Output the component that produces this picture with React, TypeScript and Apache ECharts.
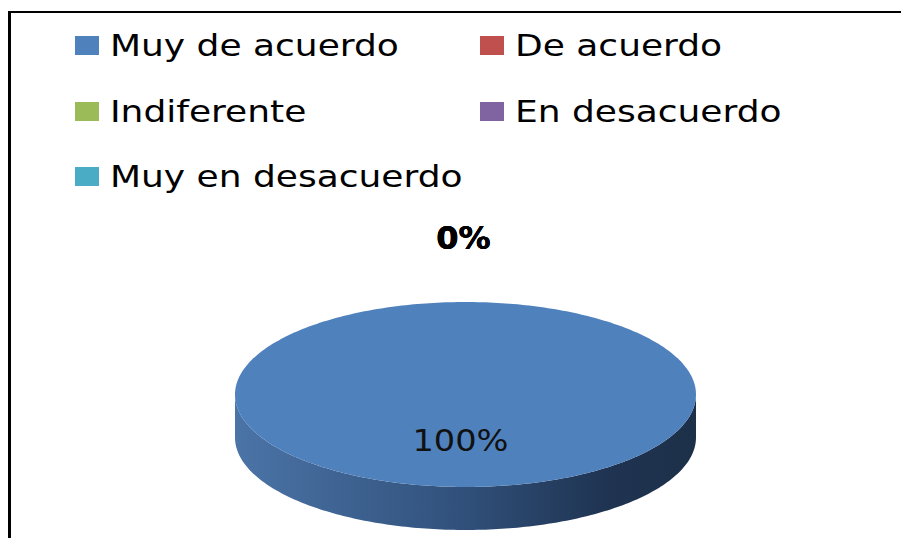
import React, { useEffect, useRef } from "react";
import * as echarts from "echarts";

// ---- data ----
const categories = ["Muy de acuerdo", "De acuerdo", "Indiferente", "En desacuerdo", "Muy en desacuerdo"];
const values = [100, 0, 0, 0, 0];
const colors = ["#4f81bd", "#c0504d", "#9bbb59", "#8064a2", "#4bacc6"];

// ---- layout ----
const CX = 465.5;
const CY = 394.5;
const RX = 230.5;
const RY = 92.5;
const DEPTH = 43;
const FONT = "'DejaVu Sans', Verdana, sans-serif";
const STRETCH = 1.2;

const total = values.reduce((a, b) => a + b, 0);

function pt(theta: number, dy = 0): number[] {
  return [CX + RX * Math.sin(theta), CY - RY * Math.cos(theta) + dy];
}

function renderItem(params: any, api: any) {
  const i = params.dataIndex;
  const v = api.value(0) as number;
  let before = 0;
  for (let k = 0; k < i; k++) before += values[k];
  const a0 = (before / total) * Math.PI * 2;
  const a1 = ((before + v) / total) * Math.PI * 2;
  const children: any[] = [];
  if (v > 0) {
    // side (front half only)
    const s = Math.max(a0, Math.PI / 2);
    const e = Math.min(a1, (Math.PI * 3) / 2);
    if (e > s) {
      const n = Math.max(2, Math.ceil(((e - s) / (Math.PI * 2)) * 360));
      const pts: number[][] = [];
      for (let k = 0; k <= n; k++) pts.push(pt(s + ((e - s) * k) / n));
      for (let k = n; k >= 0; k--) pts.push(pt(s + ((e - s) * k) / n, DEPTH));
      children.push({
        type: "polygon",
        shape: { points: pts },
        style: {
          fill: new echarts.graphic.LinearGradient(
            CX - RX, 0, CX + RX, 0,
            [
              { offset: 0, color: "#4b74a7" },
              { offset: 0.5, color: "#30507a" },
              { offset: 0.8, color: "#1f3452" },
              { offset: 1, color: "#1d3049" },
            ],
            true
          ),
          stroke: null,
        },
      });
    }
    // top face
    const span = a1 - a0;
    const n = Math.max(2, Math.ceil((span / (Math.PI * 2)) * 360));
    const pts: number[][] = [];
    if (span < Math.PI * 2 - 1e-6) pts.push([CX, CY]);
    for (let k = 0; k <= n; k++) pts.push(pt(a0 + (span * k) / n));
    children.push({
      type: "polygon",
      shape: { points: pts },
      style: { fill: colors[i], stroke: null },
    });
  }
  const mid = (a0 + a1) / 2;
  const pct = Math.round((v / total) * 100) + "%";
  if (v > 0) {
    children.push({
      type: "text",
      x: CX + 0.5 * RX * Math.sin(mid) - 5,
      y: CY - 0.5 * RY * Math.cos(mid),
      scaleX: 1.12,
      style: {
        text: pct,
        fontSize: 30,
        fontFamily: FONT,
        fill: "#111",
        align: "center",
        verticalAlign: "middle",
        textAlign: "center",
        textVerticalAlign: "middle",
      },
    });
  } else {
    const d = 63;
    children.push({
      type: "text",
      x: CX + (RX + d) * Math.sin(mid) - 2,
      y: CY - (RY + d) * Math.cos(mid) - 1,
      style: {
        text: pct,
        fontSize: 32,
        fontWeight: "bold",
        fontFamily: FONT,
        fill: "#000",
        align: "center",
        verticalAlign: "middle",
        textAlign: "center",
        textVerticalAlign: "middle",
      },
    });
  }
  return { type: "group", children };
}

// legend positions
const legendCols = [75, 480];
const legendRows = [46, 112, 177];

function legendGraphics() {
  const els: any[] = [];
  categories.forEach((name, idx) => {
    const col = idx % 2;
    const row = Math.floor(idx / 2);
    const x = legendCols[col];
    const y = legendRows[row];
    els.push({
      type: "rect",
      shape: { x, y: y - 10, width: 24, height: 19 },
      style: { fill: colors[idx] },
    });
    els.push({
      type: "text",
      x: x + 35,
      y,
      scaleX: STRETCH,
      style: {
        text: name,
        fontSize: 30,
        fontFamily: FONT,
        fill: "#000",
        textAlign: "left",
        textVerticalAlign: "middle",
      },
    });
  });
  return els;
}

export default function App() {
  const ref = useRef<HTMLDivElement>(null);
  useEffect(() => {
    if (!ref.current) return;
    const chart = echarts.init(ref.current, null as any, { renderer: "svg" });
    chart.setOption({
      animation: false,
      backgroundColor: "#ffffff",
      graphic: [
        { type: "rect", shape: { x: 8, y: 11, width: 893, height: 2 }, style: { fill: "#000" } },
        { type: "rect", shape: { x: 8, y: 11, width: 3, height: 527 }, style: { fill: "#000" } },
        ...legendGraphics(),
      ],
      series: [
        {
          type: "custom",
          coordinateSystem: "none",
          silent: true,
          renderItem,
          data: values.map((v) => [v]),
        },
      ],
    });
    return () => chart.dispose();
  }, []);
  return (
    <div
      ref={ref}
      style={{ position: "fixed", left: 0, top: 0, width: 901, height: 538 }}
    />
  );
}
